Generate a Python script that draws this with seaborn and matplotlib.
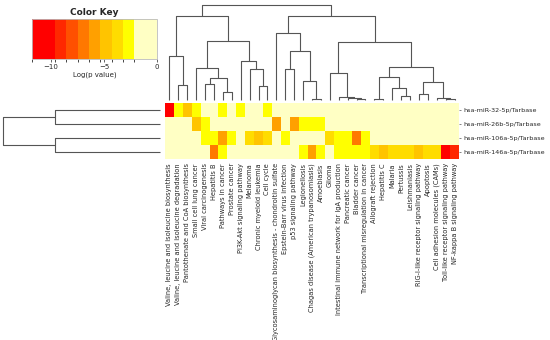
import numpy as np
import pandas as pd
import matplotlib
matplotlib.use("Agg")
import matplotlib.pyplot as plt
from matplotlib.colors import ListedColormap, BoundaryNorm
import matplotlib.cm as cm
import seaborn as sns

sns.set_style("white")
plt.rcParams['font.family'] = ['DejaVu Sans']

pathways = [
    "Valine, leucine and isoleucine biosynthesis",
    "Valine, leucine and isoleucine degradation",
    "Pantothenate and CoA biosynthesis",
    "Small cell lung cancer",
    "Viral carcinogenesis",
    "Hepatitis B",
    "Pathways in cancer",
    "Prostate cancer",
    "PI3K-Akt signaling pathway",
    "Melanoma",
    "Chronic myeloid leukemia",
    "Cell cycle",
    "Glycosaminoglycan biosynthesis - chondroitin sulfate",
    "Epstein-Barr virus infection",
    "p53 signaling pathway",
    "Legionellosis",
    "Chagas disease (American trypanosomiasis)",
    "Amoebiasis",
    "Glioma",
    "Intestinal immune network for IgA production",
    "Pancreatic cancer",
    "Bladder cancer",
    "Transcriptional misregulation in cancer",
    "Allograft rejection",
    "Hepatitis C",
    "Malaria",
    "Pertussis",
    "Leishmaniasis",
    "RIG-I-like receptor signaling pathway",
    "Apoptosis",
    "Cell adhesion molecules (CAMs)",
    "Toll-like receptor signaling pathway",
    "NF-kappa B signaling pathway",
]
mirnas = ["hsa-miR-32-5p/Tarbase", "hsa-miR-26b-5p/Tarbase",
          "hsa-miR-106a-5p/Tarbase", "hsa-miR-146a-5p/Tarbase"]

L = -1.0
mir32 = [-11, -2.7, -4.8, -2.7, L, L, -2.7, L, -2.7, L, L, -2.7,
         L, L, L, L, L, L, L, L, L, L, L, L, L, L, L, L, L, L, L, L, L]
mir26b = [L, L, L, -4.8, -2.7, L, L, L, L, L, L, L,
          -5.5, L, -5.5, -2.7, -2.7, -2.7, L, L, L, L, L, L, L, L, L, L, L, L, L, L, L]
mir106a = [L, L, L, L, -2.7, -2.7, -6.0, -2.7, L, -3.8, -5.0, -3.8,
           L, -2.7, L, L, L, L, -3.8, -2.7, -2.7, -7.0, -2.7, L, L, L, L, L, L, L, L, L, L]
mir146a = [L, L, L, L, L, -7.0, -2.7, L, L, L, L, L,
           L, L, L, -2.7, -6.0, -2.7, L, -2.7, -2.7, -2.7, -2.7, -3.8, -4.8, -3.8,
           -3.8, -3.8, -4.8, -3.8, -3.8, -11, -9.0]

key_colors = ["#ff0000", "#ff2800", "#ff5000", "#ff7800", "#ffa000",
              "#ffc400", "#ffdc00", "#ffff00", "#ffffc4"]
key_bounds = [-11.8, -9.65, -8.55, -7.45, -6.42, -5.35, -4.28, -3.2, -2.14, 0]

# dendrogram trees: (height, left, right); leaves are column / row indices
col_tree = (95,
    (84.3,
        (44.3, 0, (15, 1, 2)),
        (59, (32.3, 3, (21.7, (16, 4, 5), (8.3, 6, 7))),
             (39.3, 8, (31, 9, (14.3, 10, 11))))),
    (84.3,
        (66.7, 12, (49, (31, 13, 14), (19.3, 15, (1.3, 16, 17)))),
        (58.3,
            (26.7, 18, (3.3, 19, (2.5, 20, (1.5, 21, 22)))),
            (33.3,
                (23.3, (1.3, 23, 24), (11.7, 25, (4.3, 26, 27))),
                (17.7, (6, 28, 29), (2, 30, (0.8, 31, 32)))))))
row_tree = (156.7, (105, 0, 1), (105, 2, 3))

data = pd.DataFrame([mir32, mir26b, mir106a, mir146a], index=mirnas, columns=pathways)

cmap = ListedColormap(key_colors)
norm = BoundaryNorm(key_bounds, cmap.N)

W, H = 550, 340
fig = plt.figure(figsize=(5.5, 3.4), dpi=100)

def frac(x0, y0, x1, y1):
    return [x0 / W, 1 - y1 / H, (x1 - x0) / W, (y1 - y0) / H]

ax_hm = fig.add_axes(frac(165, 103, 459, 159))
sns.heatmap(data, ax=ax_hm, cmap=cmap, norm=norm, cbar=False,
            xticklabels=True, yticklabels=True, linewidths=0)
ax_hm.set_xlabel("")
ax_hm.set_ylabel("")
ax_hm.tick_params(axis="x", labelsize=4.8, rotation=90, length=1.5, width=0.4, pad=1.5)
ax_hm.yaxis.tick_right()
ax_hm.tick_params(axis="y", labelsize=4.6, rotation=0, length=1.5, width=0.4, pad=2,
                  left=False, right=True)
for lab in ax_hm.get_xticklabels():
    lab.set_horizontalalignment("center")

DCOL = "#555555"

def draw(ax, node, orient):
    if isinstance(node, int):
        return node + 0.5, 0.0
    h, l, r = node
    xl, hl = draw(ax, l, orient)
    xr, hr = draw(ax, r, orient)
    xs = [xl, xl, xr, xr]
    hs = [hl, h, h, hr]
    if orient == "top":
        ax.plot(xs, hs, color=DCOL, lw=0.8, solid_capstyle="butt", clip_on=False)
    else:
        ax.plot(hs, xs, color=DCOL, lw=0.8, solid_capstyle="butt", clip_on=False)
    return (xl + xr) / 2, h

ax_cd = fig.add_axes(frac(165, 3, 459, 100))
draw(ax_cd, col_tree, "top")
ax_cd.set_xlim(0, len(pathways))
ax_cd.set_ylim(0, 97)
ax_cd.axis("off")

ax_rd = fig.add_axes(frac(3, 103, 160, 159))
draw(ax_rd, row_tree, "left")
ax_rd.set_ylim(len(mirnas), 0)
ax_rd.set_xlim(157, 0)
ax_rd.axis("off")

ax_key = fig.add_axes(frac(32, 19, 157, 59))
sm = cm.ScalarMappable(norm=norm, cmap=cmap)
cb = fig.colorbar(sm, cax=ax_key, orientation="horizontal", spacing="proportional",
                  ticks=[-10, -5, 0])
cb.outline.set_edgecolor("#bbbbbb")
cb.outline.set_linewidth(0.6)
ax_key.tick_params(labelsize=5, length=2, width=0.5, pad=1.5)
ax_key.set_xticklabels(["\u221210", "\u22125", "0"])
ax_key.set_xlabel("Log(p value)", fontsize=5, labelpad=1)
ax_key.set_title("Color Key", fontsize=6.5, fontweight="bold", pad=3)

fig.savefig("out.png", dpi=100)
